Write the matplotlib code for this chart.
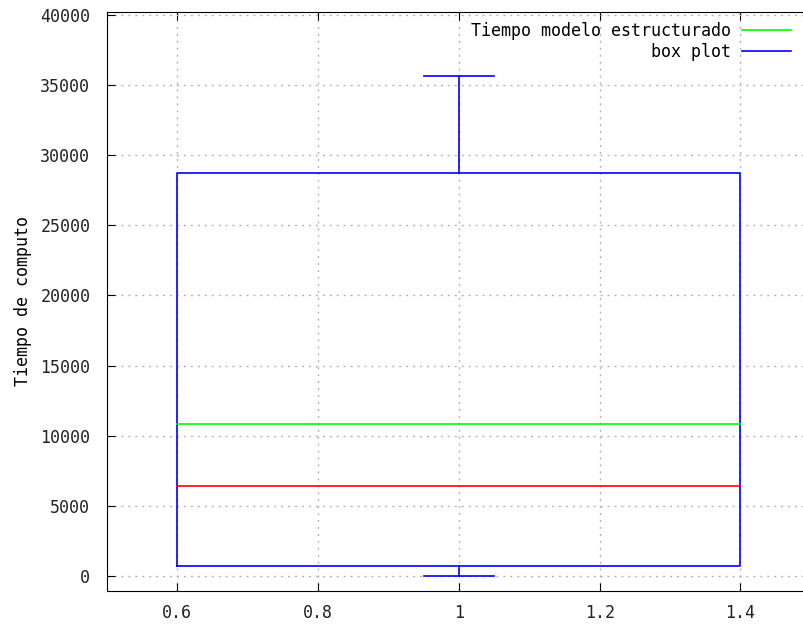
import matplotlib
matplotlib.use('Agg')
import matplotlib.pyplot as plt

#--------------- Style ---------------------
plt.rcParams['font.family'] = 'DejaVu Sans Mono'
plt.rcParams['font.size'] = 12
plt.rcParams['lines.linewidth'] = 1.2

#--------------- Data ----------------------
box_low = 730          # first quartile
box_median = 6440
box_high = 28690       # third quartile
whisker_min = 0
whisker_max = 35670
modelo_estructurado = 10820

xticks = [0.6, 0.8, 1.0, 1.2, 1.4]
xtick_labels = ['0.6', '0.8', '1', '1.2', '1.4']
yticks = [0, 5000, 10000, 15000, 20000, 25000, 30000, 35000, 40000]

box_left, box_right = 0.6, 1.4
centre, cap = 1.0, 0.05

fig = plt.figure(figsize=(8.04, 6.26), dpi=100)
ax = fig.add_axes([107 / 804, 35 / 626, 703.75 / 804, 579 / 626])

# box outline
ax.plot([box_left, box_right, box_right, box_left, box_left],
        [box_low, box_low, box_high, box_high, box_low],
        color='#0000ff', label='box plot')
# whiskers and caps
ax.plot([centre, centre], [box_high, whisker_max], color='#0000ff')
ax.plot([centre - cap, centre + cap], [whisker_max, whisker_max], color='#0000ff')
ax.plot([centre, centre], [box_low, whisker_min], color='#0000ff')
ax.plot([centre - cap, centre + cap], [whisker_min, whisker_min], color='#0000ff')
# median
ax.plot([box_left, box_right], [box_median, box_median], color='#ff0000')
# structured model time
ax.plot([box_left, box_right], [modelo_estructurado, modelo_estructurado],
        color='#00ff00', label='Tiempo modelo estructurado')

ax.set_xlim(0.5, 1.5)
ax.set_ylim(-1070, 40200)
ax.set_xticks(xticks)
ax.set_xticklabels(xtick_labels)
ax.set_yticks(yticks)
ax.spines['right'].set_visible(False)
ax.tick_params(direction='in', length=6, top=True, right=True, colors='black',
               labelcolor='#222222')
ax.tick_params(axis='x', pad=9)
ax.tick_params(axis='y', pad=12)
ax.grid(True, color='#b4b4b4', linestyle=(0, (1.5, 3.5)), linewidth=1)
ax.set_axisbelow(True)
ax.set_ylabel('Tiempo de computo')
ax.yaxis.set_label_coords(-0.107, 0.5)

handles, labels = ax.get_legend_handles_labels()
ax.legend(handles[::-1], labels[::-1], loc='upper right', bbox_to_anchor=(0.979, 0.991),
          frameon=False, markerfirst=False, handlelength=2.95, handletextpad=0.66,
          labelspacing=0.15, borderaxespad=0.0, borderpad=0.3)

fig.savefig('out.png', dpi=100)
